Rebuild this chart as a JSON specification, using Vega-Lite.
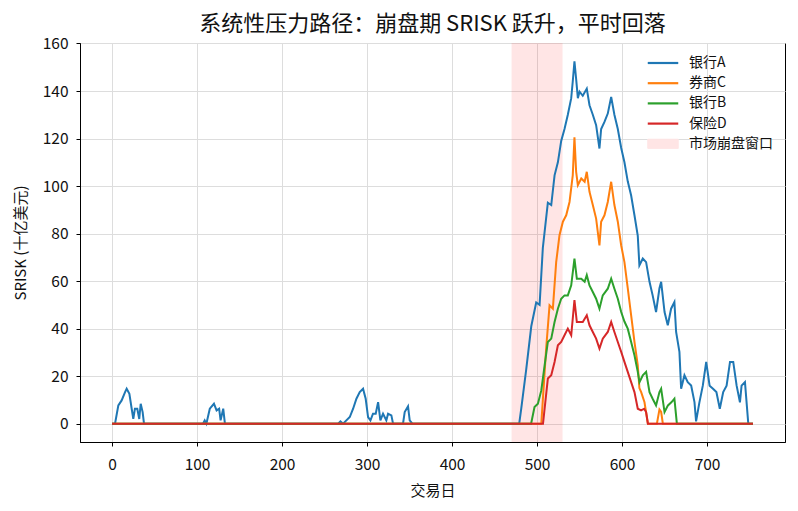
{
  "$schema": "https://vega.github.io/schema/vega-lite/v6.json",
  "width": 705,
  "height": 399,
  "autosize": "none",
  "padding": {"left": 80, "top": 43, "right": 13, "bottom": 69},
  "background": "white",
  "config": {
    "font": "Noto Sans CJK SC",
    "view": {"stroke": "black", "strokeWidth": 1},
    "axis": {
      "domainColor": "black", "tickColor": "black", "tickSize": 4,
      "labelFont": "Noto Sans CJK SC", "labelFontSize": 15.5, "labelColor": "#111",
      "titleFont": "Noto Sans CJK SC", "titleFontSize": 15, "titleFontWeight": "normal", "titleColor": "#111",
      "gridColor": "#dddddd", "gridWidth": 1
    }
  },
  "title": {"text": "系统性压力路径：崩盘期 SRISK 跃升，平时回落", "fontSize": 22, "fontWeight": "normal", "font": "Noto Sans CJK SC", "offset": 0, "color": "#111"},
  "datasets": {
    "win": [{"start": 470, "end": 530}],
    "srisk": [
      {"s":"银行A","x":0,"v":0},{"s":"银行A","x":3.5,"v":0},{"s":"银行A","x":7.4,"v":7.7},{"s":"银行A","x":11.3,"v":9.8},{"s":"银行A","x":15.3,"v":13.3},{"s":"银行A","x":17.2,"v":14.7},{"s":"银行A","x":20.4,"v":12.6},{"s":"银行A","x":23.1,"v":6.3},{"s":"银行A","x":25,"v":2},{"s":"银行A","x":26.9,"v":6.3},{"s":"银行A","x":29.7,"v":6.3},{"s":"银行A","x":32,"v":2},{"s":"银行A","x":33.7,"v":8.4},{"s":"银行A","x":36,"v":4.9},{"s":"银行A","x":37.6,"v":0},
      {"s":"银行A","x":107,"v":0},{"s":"银行A","x":109,"v":1.4},{"s":"银行A","x":111,"v":0},{"s":"银行A","x":115,"v":6.3},{"s":"银行A","x":119.9,"v":8.4},{"s":"银行A","x":123,"v":5.6},{"s":"银行A","x":126,"v":6.3},{"s":"银行A","x":127.7,"v":1.4},{"s":"银行A","x":130.8,"v":6.3},{"s":"银行A","x":132.8,"v":0},
      {"s":"银行A","x":266,"v":0},{"s":"银行A","x":268.7,"v":1},{"s":"银行A","x":271.8,"v":0},{"s":"银行A","x":279.7,"v":2.8},{"s":"银行A","x":283.6,"v":6.3},{"s":"银行A","x":287.5,"v":10.5},{"s":"银行A","x":291.4,"v":13.3},{"s":"银行A","x":295.3,"v":14.7},{"s":"银行A","x":298.4,"v":10.5},{"s":"银行A","x":301.2,"v":2.8},{"s":"银行A","x":304,"v":1.4},{"s":"银行A","x":307,"v":4.2},{"s":"银行A","x":310.2,"v":4.2},{"s":"银行A","x":313,"v":9.1},{"s":"银行A","x":315.7,"v":1.4},{"s":"银行A","x":318.8,"v":4.2},{"s":"银行A","x":322.7,"v":1.4},{"s":"银行A","x":324.7,"v":4.2},{"s":"银行A","x":328.6,"v":3.5},{"s":"银行A","x":330.6,"v":0},
      {"s":"银行A","x":342.3,"v":0},{"s":"银行A","x":344.3,"v":4.9},{"s":"银行A","x":348.2,"v":7.3},{"s":"银行A","x":350.2,"v":1.4},{"s":"银行A","x":353.3,"v":0},
      {"s":"银行A","x":479,"v":0},{"s":"银行A","x":481.4,"v":6.3},{"s":"银行A","x":487.3,"v":23},{"s":"银行A","x":493.2,"v":41},{"s":"银行A","x":499,"v":51},{"s":"银行A","x":503,"v":50},{"s":"银行A","x":506.8,"v":74},{"s":"银行A","x":512.7,"v":93},{"s":"银行A","x":516.7,"v":92},{"s":"银行A","x":520.6,"v":104.5},{"s":"银行A","x":524.5,"v":110},{"s":"银行A","x":528.4,"v":119},{"s":"银行A","x":532.3,"v":124},{"s":"银行A","x":536.2,"v":130},{"s":"银行A","x":540.2,"v":137},{"s":"银行A","x":542,"v":144},{"s":"银行A","x":544,"v":152.5},{"s":"银行A","x":546,"v":145},{"s":"银行A","x":548,"v":137},{"s":"银行A","x":550,"v":139.7},{"s":"银行A","x":553.8,"v":138},{"s":"银行A","x":558.5,"v":141},{"s":"银行A","x":561.7,"v":134},{"s":"银行A","x":565.6,"v":130},{"s":"银行A","x":569.5,"v":125.6},{"s":"银行A","x":573.4,"v":115.8},{"s":"银行A","x":575.4,"v":124},{"s":"银行A","x":579.3,"v":127},{"s":"银行A","x":583.2,"v":130.5},{"s":"银行A","x":587.2,"v":137.5},{"s":"银行A","x":591,"v":130},{"s":"银行A","x":595,"v":124},{"s":"银行A","x":599,"v":116},{"s":"银行A","x":602.8,"v":110},{"s":"银行A","x":606.7,"v":102},{"s":"银行A","x":610.7,"v":96},{"s":"银行A","x":614.6,"v":87.7},{"s":"银行A","x":618.5,"v":79},{"s":"银行A","x":620.4,"v":66.6},{"s":"银行A","x":624.4,"v":69.5},{"s":"银行A","x":628.3,"v":68},{"s":"银行A","x":632.3,"v":59.7},{"s":"银行A","x":636,"v":54},{"s":"银行A","x":640,"v":47},{"s":"银行A","x":644,"v":57},{"s":"银行A","x":646,"v":59.7},{"s":"银行A","x":650,"v":47},{"s":"银行A","x":653.8,"v":41.4},{"s":"银行A","x":657.7,"v":48.4},{"s":"银行A","x":661.6,"v":51.2},{"s":"银行A","x":663.6,"v":38.6},{"s":"银行A","x":667.5,"v":30.2},{"s":"银行A","x":669.5,"v":14.7},{"s":"银行A","x":673.4,"v":20.4},{"s":"银行A","x":677.3,"v":17.5},{"s":"银行A","x":681.3,"v":16.1},{"s":"银行A","x":685.2,"v":9.1},{"s":"银行A","x":687.1,"v":1},{"s":"银行A","x":691,"v":9},{"s":"银行A","x":695,"v":16},{"s":"银行A","x":699,"v":26},{"s":"银行A","x":703,"v":16},{"s":"银行A","x":707,"v":14.7},{"s":"银行A","x":711,"v":13.3},{"s":"银行A","x":715,"v":6.3},{"s":"银行A","x":719,"v":13.3},{"s":"银行A","x":723,"v":16},{"s":"银行A","x":727,"v":26},{"s":"银行A","x":730.8,"v":26},{"s":"银行A","x":734.8,"v":16},{"s":"银行A","x":738.7,"v":9},{"s":"银行A","x":740.6,"v":16},{"s":"银行A","x":744.6,"v":17.5},{"s":"银行A","x":748.5,"v":0},{"s":"银行A","x":754,"v":0},
      {"s":"券商C","x":0,"v":0},{"s":"券商C","x":505,"v":0},{"s":"券商C","x":510.7,"v":31.6},{"s":"券商C","x":514.7,"v":49.8},{"s":"券商C","x":518.6,"v":48.4},{"s":"券商C","x":522.5,"v":68},{"s":"券商C","x":526.4,"v":79.3},{"s":"券商C","x":530.4,"v":85},{"s":"券商C","x":534.3,"v":87.7},{"s":"券商C","x":538.2,"v":93.3},{"s":"券商C","x":542,"v":104.5},{"s":"券商C","x":544,"v":120.5},{"s":"券商C","x":546,"v":106},{"s":"券商C","x":548,"v":100.4},{"s":"券商C","x":552,"v":103.2},{"s":"券商C","x":556,"v":101.8},{"s":"券商C","x":558.5,"v":106},{"s":"券商C","x":561.7,"v":97.6},{"s":"券商C","x":565.6,"v":92},{"s":"券商C","x":569.5,"v":86.3},{"s":"券商C","x":573.4,"v":75},{"s":"券商C","x":575.4,"v":85},{"s":"券商C","x":579.3,"v":87.7},{"s":"券商C","x":583.2,"v":93.3},{"s":"券商C","x":587.2,"v":101.8},{"s":"券商C","x":591,"v":92},{"s":"券商C","x":595,"v":85},{"s":"券商C","x":599,"v":75},{"s":"券商C","x":602.8,"v":68},{"s":"券商C","x":606.7,"v":57},{"s":"券商C","x":610.7,"v":45.6},{"s":"券商C","x":614.6,"v":34.4},{"s":"券商C","x":618.5,"v":24.6},{"s":"券商C","x":620.4,"v":15},{"s":"券商C","x":622.5,"v":13.3},{"s":"券商C","x":626.4,"v":9},{"s":"券商C","x":630.4,"v":0},{"s":"券商C","x":641,"v":0},{"s":"券商C","x":644,"v":6},{"s":"券商C","x":646,"v":5},{"s":"券商C","x":648,"v":0},{"s":"券商C","x":754,"v":0},
      {"s":"银行B","x":0,"v":0},{"s":"银行B","x":493,"v":0},{"s":"银行B","x":497,"v":7},{"s":"银行B","x":501,"v":8.4},{"s":"银行B","x":505,"v":14},{"s":"银行B","x":508.7,"v":24},{"s":"银行B","x":512.7,"v":34.4},{"s":"银行B","x":516.7,"v":35.8},{"s":"银行B","x":520.6,"v":42.8},{"s":"银行B","x":524.5,"v":48.4},{"s":"银行B","x":528.4,"v":52.6},{"s":"银行B","x":532.3,"v":54},{"s":"银行B","x":536.2,"v":54},{"s":"银行B","x":540.2,"v":58.2},{"s":"银行B","x":544,"v":69.5},{"s":"银行B","x":546.8,"v":61},{"s":"银行B","x":552,"v":61},{"s":"银行B","x":556,"v":59.7},{"s":"银行B","x":558.5,"v":62.5},{"s":"银行B","x":561.7,"v":58.2},{"s":"银行B","x":565.6,"v":55.4},{"s":"银行B","x":569.5,"v":52.6},{"s":"银行B","x":573.4,"v":48.4},{"s":"银行B","x":577.3,"v":54},{"s":"银行B","x":583.2,"v":56.8},{"s":"银行B","x":587.2,"v":61},{"s":"银行B","x":591,"v":56.8},{"s":"银行B","x":595,"v":52.6},{"s":"银行B","x":599,"v":47},{"s":"银行B","x":602.8,"v":43},{"s":"银行B","x":606.7,"v":40},{"s":"银行B","x":610.7,"v":34.4},{"s":"银行B","x":614.6,"v":28.8},{"s":"银行B","x":618.5,"v":21.8},{"s":"银行B","x":620.5,"v":17.5},{"s":"银行B","x":624.4,"v":20.4},{"s":"银行B","x":628.3,"v":21.8},{"s":"银行B","x":632.3,"v":13.3},{"s":"银行B","x":636,"v":10.5},{"s":"银行B","x":640,"v":7.7},{"s":"银行B","x":644,"v":13.3},{"s":"银行B","x":646,"v":14.7},{"s":"银行B","x":650,"v":4.9},{"s":"银行B","x":654,"v":7.7},{"s":"银行B","x":658,"v":9},{"s":"银行B","x":661.6,"v":10.5},{"s":"银行B","x":664.5,"v":0},{"s":"银行B","x":754,"v":0},
      {"s":"保险D","x":0,"v":0},{"s":"保险D","x":507,"v":0},{"s":"保险D","x":512.7,"v":19},{"s":"保险D","x":516.7,"v":20.4},{"s":"保险D","x":520.6,"v":26},{"s":"保险D","x":524.5,"v":33},{"s":"保险D","x":528.4,"v":34.4},{"s":"保险D","x":532.3,"v":37.2},{"s":"保险D","x":536.2,"v":40},{"s":"保险D","x":540.2,"v":37.2},{"s":"保险D","x":544,"v":52},{"s":"保险D","x":546.8,"v":42.8},{"s":"保险D","x":550,"v":42.8},{"s":"保险D","x":553.8,"v":42.8},{"s":"保险D","x":558.5,"v":45.6},{"s":"保险D","x":561.7,"v":41.4},{"s":"保险D","x":565.6,"v":38.6},{"s":"保险D","x":569.5,"v":35.8},{"s":"保险D","x":573.4,"v":31.6},{"s":"保险D","x":577.3,"v":35.8},{"s":"保险D","x":583.2,"v":38.6},{"s":"保险D","x":587.2,"v":42.8},{"s":"保险D","x":591,"v":38.6},{"s":"保险D","x":595,"v":34.4},{"s":"保险D","x":599,"v":30.2},{"s":"保险D","x":602.8,"v":26},{"s":"保险D","x":606.7,"v":21.8},{"s":"保险D","x":610.7,"v":17.5},{"s":"保险D","x":614.6,"v":13.3},{"s":"保险D","x":618.5,"v":6.3},{"s":"保险D","x":622.4,"v":5.6},{"s":"保险D","x":626,"v":6.3},{"s":"保险D","x":628.3,"v":4.9},{"s":"保险D","x":630.4,"v":0},{"s":"保险D","x":754,"v":0}
    ]
  },
  "encoding": {
    "x": {"type": "quantitative", "scale": {"domain": [-37.7, 791.7], "nice": false, "zero": false},
      "axis": {"title": "交易日", "values": [0,100,200,300,400,500,600,700], "grid": true, "labelPadding": 11, "titlePadding": 11}},
    "y": {"type": "quantitative", "scale": {"domain": [-7.7, 160.2], "nice": false, "zero": false},
      "axis": {"title": "SRISK (十亿美元)", "values": [0,20,40,60,80,100,120,140,160], "grid": true, "labelPadding": 8, "titlePadding": 14}}
  },
  "layer": [
    {
      "data": {"name": "win"},
      "mark": {"type": "rect", "fill": "#ff0000", "opacity": 0.1},
      "encoding": {
        "x": {"field": "start", "type": "quantitative"},
        "x2": {"field": "end"}
      }
    },
    {"data": {"name": "srisk"}, "transform": [{"filter": "datum.s === '银行A'"}], "mark": {"type": "line", "strokeWidth": 2, "clip": true},
      "encoding": {"x": {"field": "x"}, "y": {"field": "v"},
        "color": {"field": "s", "type": "nominal",
          "scale": {"domain": ["银行A","券商C","银行B","保险D","市场崩盘窗口"], "range": ["#1f77b4","#ff7f0e","#2ca02c","#d62728","#ffe5e5"]},
          "legend": {
            "title": null, "orient": "none", "legendX": 576, "legendY": 13, "direction": "vertical",
            "labelFont": "Noto Sans CJK SC", "labelFontSize": 14, "labelColor": "#111", "labelOffset": 19,
            "symbolType": "stroke", "symbolSize": 930, "symbolStrokeWidth": 2.2, "rowPadding": 6.2, "padding": 0,
            "encode": {"symbols": {"update": {
              "shape": {"signal": "datum.value === '市场崩盘窗口' ? 'M-1,-0.3H1V0.3H-1Z' : 'stroke'"},
              "fill": {"signal": "datum.value === '市场崩盘窗口' ? '#ffe5e5' : 'transparent'"},
              "stroke": {"signal": "datum.value === '市场崩盘窗口' ? '#ffd6d6' : scale('color', datum.value)"},
              "strokeWidth": {"signal": "datum.value === '市场崩盘窗口' ? 1 : 2.2"}
            }}}
          }}}},
    {"data": {"name": "srisk"}, "transform": [{"filter": "datum.s === '券商C'"}], "mark": {"type": "line", "strokeWidth": 2, "clip": true}, "encoding": {"x": {"field": "x"}, "y": {"field": "v"}, "color": {"field": "s", "type": "nominal"}}},
    {"data": {"name": "srisk"}, "transform": [{"filter": "datum.s === '银行B'"}], "mark": {"type": "line", "strokeWidth": 2, "clip": true}, "encoding": {"x": {"field": "x"}, "y": {"field": "v"}, "color": {"field": "s", "type": "nominal"}}},
    {"data": {"name": "srisk"}, "transform": [{"filter": "datum.s === '保险D'"}], "mark": {"type": "line", "strokeWidth": 2, "clip": true}, "encoding": {"x": {"field": "x"}, "y": {"field": "v"}, "color": {"field": "s", "type": "nominal"}}}
  ]
}
